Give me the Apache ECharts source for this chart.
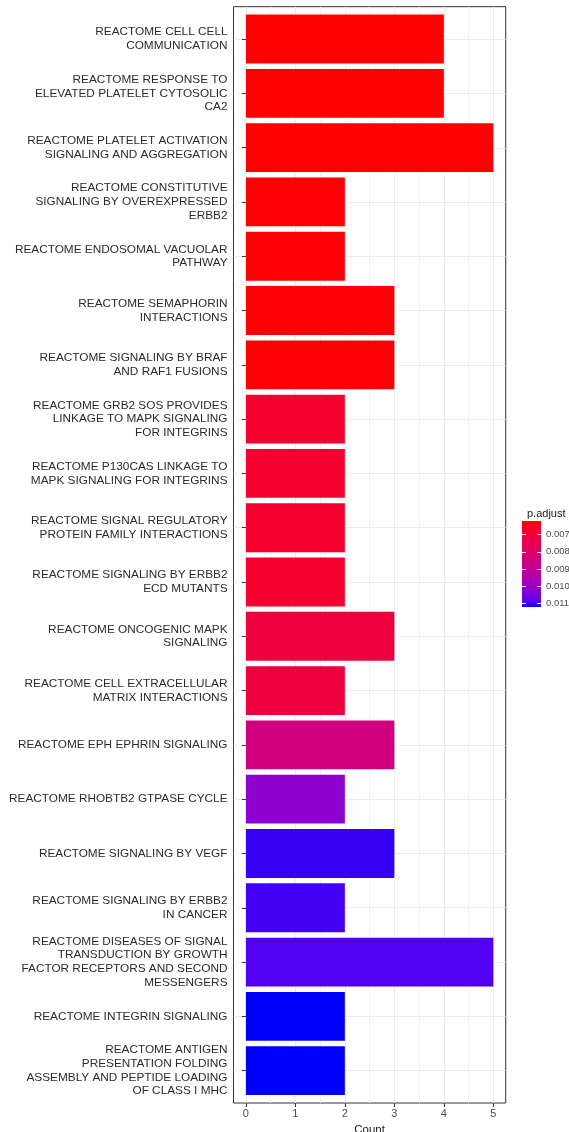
<!DOCTYPE html>
<html>
<head>
<meta charset="utf-8">
<script src="https://cdn.jsdelivr.net/npm/echarts@6/dist/echarts.min.js"></script>
<style>
html,body{margin:0;padding:0;background:#fff;}
#chart{width:569px;height:1132px;}
</style>
</head>
<body>
<div id="chart"></div>
<script>
// ---- data ----
const categories = [
  "REACTOME CELL CELL\nCOMMUNICATION",
  "REACTOME RESPONSE TO\nELEVATED PLATELET CYTOSOLIC\nCA2",
  "REACTOME PLATELET ACTIVATION\nSIGNALING AND AGGREGATION",
  "REACTOME CONSTITUTIVE\nSIGNALING BY OVEREXPRESSED\nERBB2",
  "REACTOME ENDOSOMAL VACUOLAR\nPATHWAY",
  "REACTOME SEMAPHORIN\nINTERACTIONS",
  "REACTOME SIGNALING BY BRAF\nAND RAF1 FUSIONS",
  "REACTOME GRB2 SOS PROVIDES\nLINKAGE TO MAPK SIGNALING\nFOR INTEGRINS",
  "REACTOME P130CAS LINKAGE TO\nMAPK SIGNALING FOR INTEGRINS",
  "REACTOME SIGNAL REGULATORY\nPROTEIN FAMILY INTERACTIONS",
  "REACTOME SIGNALING BY ERBB2\nECD MUTANTS",
  "REACTOME ONCOGENIC MAPK\nSIGNALING",
  "REACTOME CELL EXTRACELLULAR\nMATRIX INTERACTIONS",
  "REACTOME EPH EPHRIN SIGNALING",
  "REACTOME RHOBTB2 GTPASE CYCLE",
  "REACTOME SIGNALING BY VEGF",
  "REACTOME SIGNALING BY ERBB2\nIN CANCER",
  "REACTOME DISEASES OF SIGNAL\nTRANSDUCTION BY GROWTH\nFACTOR RECEPTORS AND SECOND\nMESSENGERS",
  "REACTOME INTEGRIN SIGNALING",
  "REACTOME ANTIGEN\nPRESENTATION FOLDING\nASSEMBLY AND PEPTIDE LOADING\nOF CLASS I MHC"
];
const counts = [4, 4, 5, 2, 2, 3, 3, 2, 2, 2, 2, 3, 2, 3, 2, 3, 2, 5, 2, 2];
const pAdjust = [0.00621, 0.00621, 0.00621, 0.00625, 0.00625, 0.00625, 0.00625,
                 0.0068, 0.0068, 0.0068, 0.0068, 0.0071, 0.0071, 0.0085, 0.0102,
                 0.0110, 0.01095, 0.0109, 0.0112, 0.0112];
const countTicks = [0, 1, 2, 3, 4, 5];
const legendTicks = [0.007, 0.008, 0.009, 0.010, 0.011];

// ---- colour helpers (Lab interpolation red -> blue, like ggplot) ----
function toLin(c){c/=255;return c<=0.04045?c/12.92:Math.pow((c+0.055)/1.055,2.4);}
function toSrgb(c){c=Math.max(0,Math.min(1,c));return c<=0.0031308?12.92*c:1.055*Math.pow(c,1/2.4)-0.055;}
const W=[0.95047,1,1.08883];
function f(t){return t>0.008856?Math.cbrt(t):(7.787*t+16/116);}
function fi(t){return t>0.206893?t*t*t:(t-16/116)/7.787;}
function rgb2lab(r,g,b){
  r=toLin(r);g=toLin(g);b=toLin(b);
  const X=(0.4124*r+0.3576*g+0.1805*b)/W[0],Y=(0.2126*r+0.7152*g+0.0722*b)/W[1],Z=(0.0193*r+0.1192*g+0.9505*b)/W[2];
  return [116*f(Y)-16,500*(f(X)-f(Y)),200*(f(Y)-f(Z))];
}
function lab2hex(L,a,bb){
  const fy=(L+16)/116,fx=fy+a/500,fz=fy-bb/200;
  const X=fi(fx)*W[0],Y=fi(fy)*W[1],Z=fi(fz)*W[2];
  const r=3.2406*X-1.5372*Y-0.4986*Z,g=-0.9689*X+1.8758*Y+0.0415*Z,b=0.0557*X-0.2040*Y+1.0570*Z;
  return '#'+[r,g,b].map(v=>Math.round(toSrgb(v)*255).toString(16).padStart(2,'0')).join('');
}
const labLow=rgb2lab(255,0,0), labHigh=rgb2lab(0,0,255);
const N=16, gradColors=[];
for(let i=0;i<=N;i++){const t=i/N;gradColors.push(lab2hex(labLow[0]+(labHigh[0]-labLow[0])*t,labLow[1]+(labHigh[1]-labLow[1])*t,labLow[2]+(labHigh[2]-labLow[2])*t));}

const pMin=Math.min(...pAdjust), pMax=Math.max(...pAdjust);
const barData = categories.map((c,i)=>[counts[i], c, pAdjust[i]]);

const font='"Liberation Sans", Arial, Helvetica, sans-serif';
const T='rgba(0,0,0,0)', G='#ebebeb', Gm='#f0f0f0';

const chart = echarts.init(document.getElementById('chart'), null, {renderer:'canvas'});
chart.setOption({
  animation:false,
  backgroundColor:'#ffffff',
  textStyle:{fontFamily:font},
  title:{text:'p.adjust',left:522,top:503,textStyle:{fontSize:11,fontWeight:'normal',color:'#1a1a1a',fontFamily:font}},
  grid:[
    {left:233.5,right:63.3,top:11.9,bottom:34.2,outerBoundsMode:'none',containLabel:false},
    {left:233.5,right:63.3,top:6.7,bottom:29,show:true,borderColor:'#333333',borderWidth:1,backgroundColor:'transparent',outerBoundsMode:'none',containLabel:false},
    {left:522,top:521,width:19,height:86,outerBoundsMode:'none',containLabel:false}
  ],
  xAxis:[
    {gridIndex:0,type:'value',min:-0.25,max:5.25,show:false},
    {gridIndex:1,type:'value',min:-0.25,max:5.25,interval:0.25,position:'bottom',
     axisLine:{show:false},
     axisTick:{show:true,length:4,customValues:countTicks,lineStyle:{color:'#333333'}},
     axisLabel:{show:true,customValues:countTicks,fontSize:11,color:'#4d4d4d',margin:5,fontFamily:font},
     splitLine:{show:false},
     name:'Count',nameLocation:'middle',nameGap:17.5,nameTextStyle:{fontSize:11.5,color:'#1a1a1a',fontFamily:font}},
    {gridIndex:1,type:'value',min:-0.25,max:5.25,interval:0.25,position:'top',
     axisLine:{show:false},axisTick:{show:false},axisLabel:{show:false},
     splitLine:{show:true,lineStyle:{color:[T,G,T,Gm],width:1}}},
    {gridIndex:2,type:'category',data:['bar'],show:false}
  ],
  yAxis:[
    {gridIndex:0,type:'category',data:categories,inverse:true,
     axisLine:{show:false},
     axisTick:{show:true,alignWithLabel:true,length:4,lineStyle:{color:'#333333'}},
     axisLabel:{interval:0,fontSize:11.8,lineHeight:13.7,color:'#2b2b2b',margin:6,align:'right',fontFamily:font},
     splitLine:{show:false}},
    {gridIndex:1,type:'value',min:0.4,max:20.6,interval:0.2,inverse:true,
     axisLine:{show:false},axisTick:{show:false},axisLabel:{show:false},
     splitLine:{show:true,lineStyle:{color:[T,T,T,G,T],width:1}}},
    {gridIndex:2,type:'value',min:pMin,max:pMax,inverse:true,position:'left',z:10,
     axisLine:{show:false},axisLabel:{show:false},splitLine:{show:false},
     axisTick:{show:true,inside:true,length:3.8,customValues:legendTicks,lineStyle:{color:'#ffffff',width:1}}},
    {gridIndex:2,type:'value',min:pMin,max:pMax,inverse:true,position:'right',z:10,
     axisLine:{show:false},splitLine:{show:false},
     axisTick:{show:true,inside:true,length:3.8,customValues:legendTicks,lineStyle:{color:'#ffffff',width:1}},
     axisLabel:{show:true,customValues:legendTicks,margin:5,fontSize:9.5,color:'#4d4d4d',fontFamily:font,
       formatter:v=>v.toFixed(3)}}
  ],
  visualMap:{type:'continuous',show:false,seriesIndex:0,dimension:2,min:pMin,max:pMax,inRange:{color:gradColors}},
  series:[
    {type:'bar',xAxisIndex:0,yAxisIndex:0,data:barData,encode:{x:0,y:1},barCategoryGap:'10%',z:2},
    {type:'custom',xAxisIndex:3,yAxisIndex:2,data:[[0,pMin,pMax]],z:2,
     renderItem:function(params,api){
       const a=api.coord([api.value(0),api.value(1)]);
       const b=api.coord([api.value(0),api.value(2)]);
       const w=api.size([1,0])[0];
       return {type:'rect',shape:{x:a[0]-w/2,y:Math.min(a[1],b[1]),width:w,height:Math.abs(b[1]-a[1])},
         style:{fill:new echarts.graphic.LinearGradient(0,0,0,1,gradColors.map((c,i)=>({offset:i/(gradColors.length-1),color:c})))}};
     }}
  ]
});
</script>
</body>
</html>
